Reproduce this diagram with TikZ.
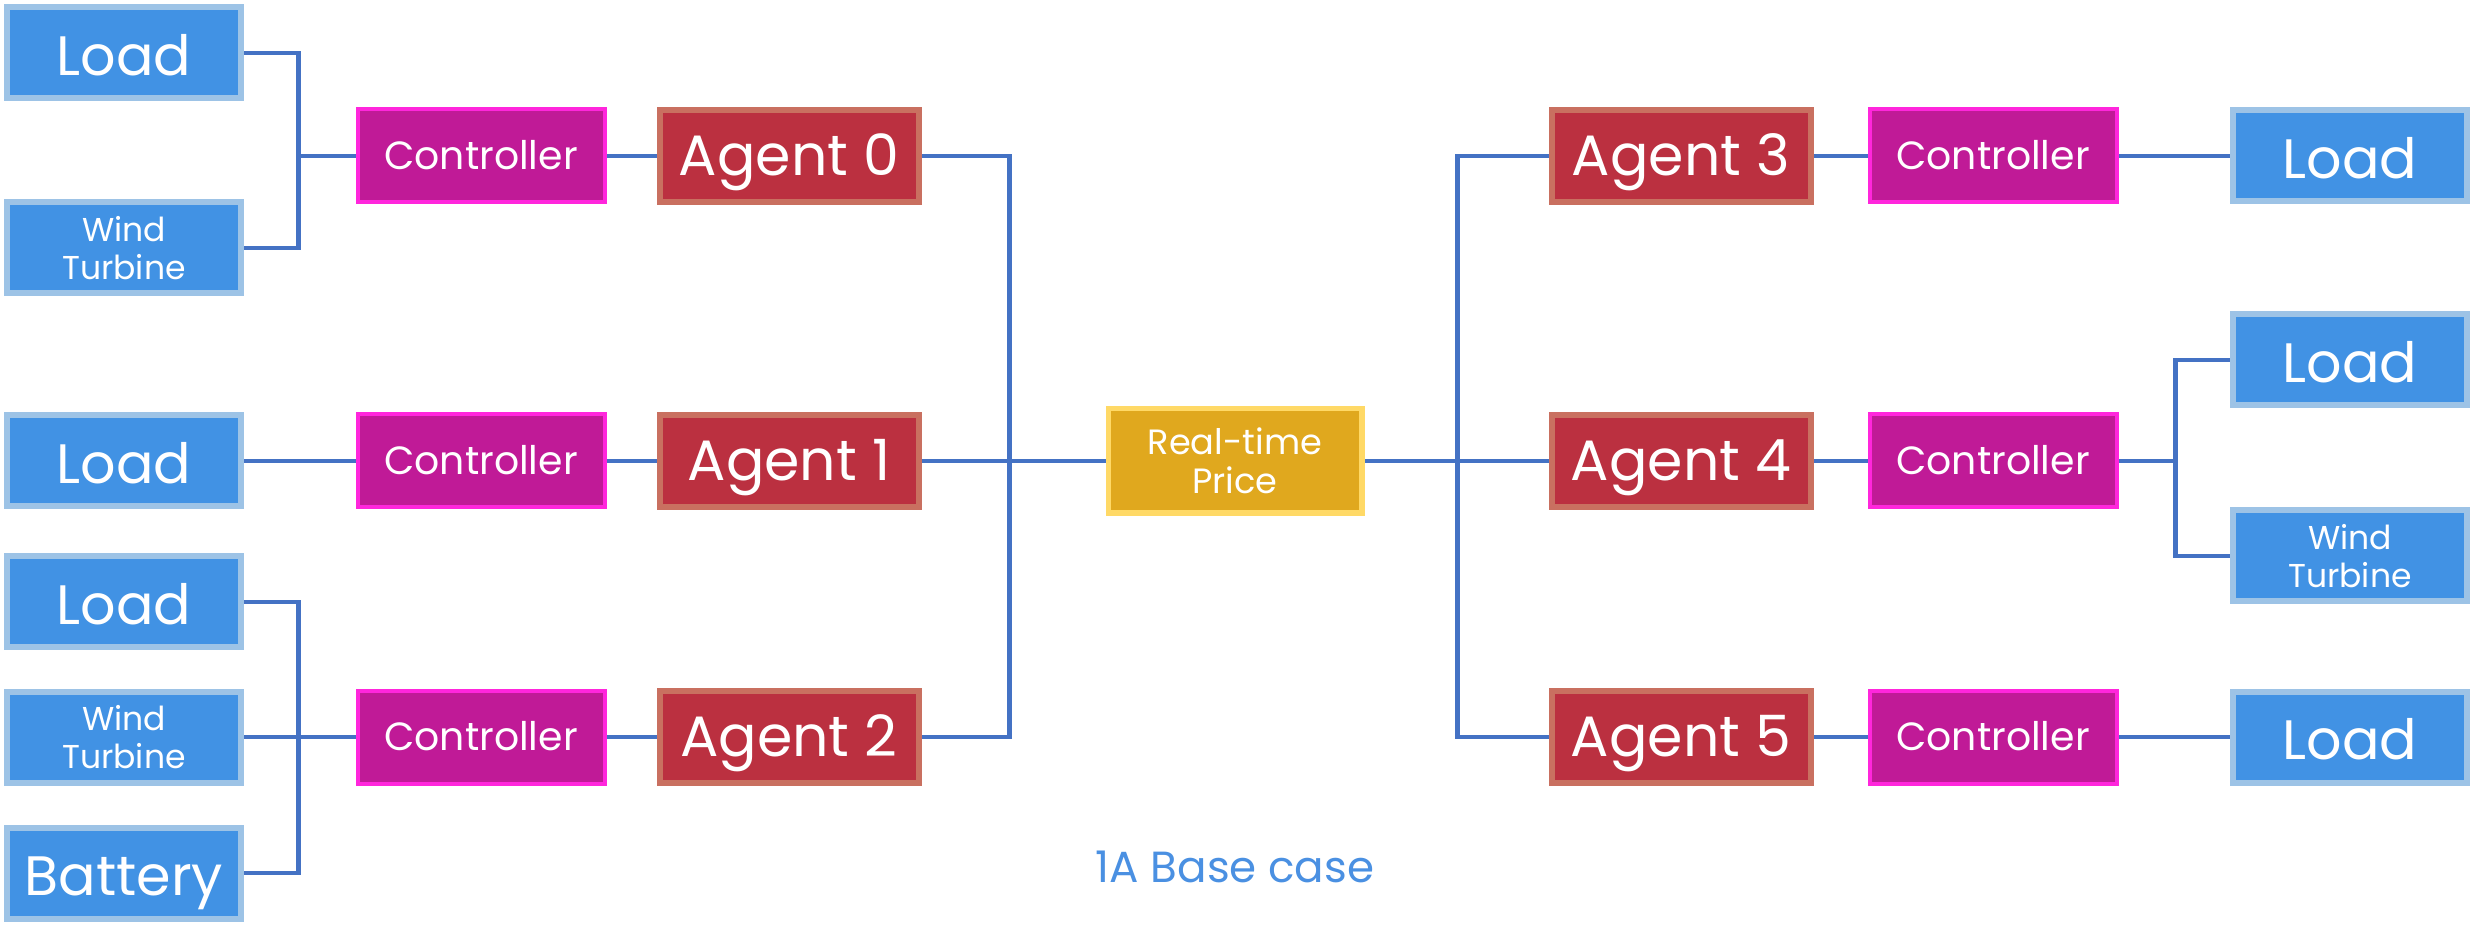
\documentclass[tikz,border=0pt]{standalone}
\usepackage{fontspec}
\setmainfont{Poppins}
\usetikzlibrary{positioning,backgrounds}

\definecolor{loadfill}{RGB}{65,146,228}
\definecolor{loadline}{RGB}{157,195,230}
\definecolor{ctrlfill}{RGB}{192,26,151}
\definecolor{ctrlline}{RGB}{255,38,220}
\definecolor{agentfill}{RGB}{187,48,64}
\definecolor{agentline}{RGB}{201,112,96}
\definecolor{pricefill}{RGB}{224,168,30}
\definecolor{priceline}{RGB}{255,217,102}
\definecolor{wire}{RGB}{68,114,196}
\definecolor{captionblue}{RGB}{74,144,226}

\begin{document}
\begin{tikzpicture}[node distance=3.08cm,
    boxbase/.style={rectangle, draw, text=white, align=center, inner sep=0pt},
    loadbox/.style={boxbase, fill=loadfill, draw=loadline, line width=0.6mm, minimum width=23.4mm, minimum height=9.1mm, font=\fontsize{15.8}{18}\selectfont, text height=12.6pt, text depth=0pt},
    sourcebox/.style={boxbase, fill=loadfill, draw=loadline, line width=0.6mm, minimum width=23.4mm, minimum height=9.1mm, font=\fontsize{9.4}{10.8}\selectfont},
    ctrlbox/.style={boxbase, fill=ctrlfill, draw=ctrlline, line width=0.4mm, minimum width=24.7mm, minimum height=9.3mm, font=\fontsize{11.2}{13}\selectfont, text height=7.9pt, text depth=0pt},
    agentbox/.style={boxbase, fill=agentfill, draw=agentline, line width=0.6mm, minimum width=25.9mm, minimum height=9.2mm, font=\fontsize{16.2}{18}\selectfont, text height=11.3pt, text depth=0pt},
    pricebox/.style={boxbase, fill=pricefill, draw=priceline, line width=0.55mm, minimum width=25.35mm, minimum height=10.45mm, font=\fontsize{10}{11.2}\selectfont},
    link/.style={draw=wire, line width=0.42mm}]
    \useasboundingbox (0,0) rectangle (24.76,9.29);

    % market in the middle
    \node[pricebox] (price) at (12.35,4.68) {Real-time\\Price};

    % left agents
    \node[agentbox, left of=price, node distance=4.46cm] (agent1) {Agent 1};
    \node[agentbox, above of=agent1, node distance=3.05cm] (agent0) {Agent 0};
    \node[agentbox, below of=agent1, node distance=2.76cm] (agent2) {Agent 2};
    \node[ctrlbox, left of=agent0] (ctrl0) {Controller};
    \node[ctrlbox, left of=agent1] (ctrl1) {Controller};
    \node[ctrlbox, left of=agent2] (ctrl2) {Controller};
    \node[loadbox, left of=ctrl0, node distance=3.57cm, yshift=1.03cm] (load0) {Load};
    \node[sourcebox, left of=ctrl0, node distance=3.57cm, yshift=-0.92cm] (wind0) {Wind\\Turbine};
    \node[loadbox, left of=ctrl1, node distance=3.57cm] (load1) {Load};
    \node[loadbox, left of=ctrl2, node distance=3.57cm, yshift=1.35cm] (load2) {Load};
    \node[sourcebox, left of=ctrl2, node distance=3.57cm] (wind2) {Wind\\Turbine};
    \node[loadbox, left of=ctrl2, node distance=3.57cm, yshift=-1.36cm] (batt2) {Battery};

    % right agents
    \node[agentbox, right of=price, node distance=4.46cm] (agent4) {Agent 4};
    \node[agentbox, above of=agent4, node distance=3.05cm] (agent3) {Agent 3};
    \node[agentbox, below of=agent4, node distance=2.76cm] (agent5) {Agent 5};
    \node[ctrlbox, right of=agent3, node distance=3.12cm] (ctrl3) {Controller};
    \node[ctrlbox, right of=agent4, node distance=3.12cm] (ctrl4) {Controller};
    \node[ctrlbox, right of=agent5, node distance=3.12cm] (ctrl5) {Controller};
    \node[loadbox, right of=ctrl3, node distance=3.57cm] (load3) {Load};
    \node[loadbox, right of=ctrl4, node distance=3.57cm, yshift=1.01cm] (load4) {Load};
    \node[sourcebox, right of=ctrl4, node distance=3.57cm, yshift=-0.95cm] (wind4) {Wind\\Turbine};
    \node[loadbox, right of=ctrl5, node distance=3.57cm] (load5) {Load};

    \node[text=captionblue, font=\fontsize{12.4}{14}\selectfont, below of=price, node distance=4.06cm] (caption) {1A Base case};

    % junction points of the wiring
    \coordinate[left=0.57cm of ctrl0] (join0);
    \coordinate[left=0.57cm of ctrl2] (join2);
    \coordinate[right=0.57cm of ctrl4] (join4);
    \coordinate[right=0.88cm of agent1] (busL);
    \coordinate[left=0.91cm of agent4] (busR);

    \begin{scope}[on background layer]
        \draw[link] (load0.east) -| (join0) |- (wind0.east);
        \draw[link] (join0) -- (ctrl0);
        \draw[link] (load1) -- (ctrl1);
        \draw[link] (load2.east) -| (join2) |- (batt2.east);
        \draw[link] (wind2) -- (ctrl2);
        \draw[link] (ctrl0) -- (agent0);
        \draw[link] (ctrl1) -- (agent1);
        \draw[link] (ctrl2) -- (agent2);
        \draw[link] (agent0.east) -| (busL) |- (agent2.east);
        \draw[link] (agent1) -- (price);
        \draw[link] (price) -- (agent4);
        \draw[link] (agent3.west) -| (busR) |- (agent5.west);
        \draw[link] (agent3) -- (ctrl3);
        \draw[link] (agent4) -- (ctrl4);
        \draw[link] (agent5) -- (ctrl5);
        \draw[link] (ctrl3) -- (load3);
        \draw[link] (ctrl5) -- (load5);
        \draw[link] (ctrl4) -- (join4);
        \draw[link] (load4.west) -| (join4) |- (wind4.west);
    \end{scope}
\end{tikzpicture}
\end{document}
